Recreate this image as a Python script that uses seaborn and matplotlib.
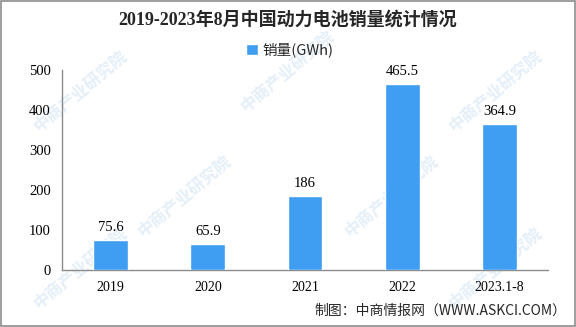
import matplotlib
matplotlib.use("Agg")
import matplotlib.pyplot as plt
import seaborn as sns
import pandas as pd
from matplotlib.patches import Rectangle

# Chart data
years = ["2019", "2020", "2021", "2022", "2023.1-8"]
sales = [75.6, 65.9, 186, 465.5, 364.9]
value_labels = ["75.6", "65.9", "186", "465.5", "364.9"]
series_name = "销量(GWh)"
y_ticks = [0, 100, 200, 300, 400, 500]

title = "2019-2023年8月中国动力电池销量统计情况"
source = "制图：中商情报网（WWW.ASKCI.COM）"
watermark = "中商产业研究院"

sns.set_theme(style="white")
plt.rcParams["font.family"] = ["Liberation Serif", "Noto Sans CJK SC", "DejaVu Sans"]

bar_color = "#3F9DF2"
axis_color = "#8C8C8C"

df = pd.DataFrame({"year": years, "sales": sales, "series": series_name})

fig = plt.figure(figsize=(5.76, 3.27), dpi=100)

# background layer with faint diagonal watermarks
bg = fig.add_axes([0, 0, 1, 1], zorder=-1)
bg.set_axis_off()
for (wx, wy) in [(0.14, 0.72), (0.50, 0.78), (0.86, 0.72),
                 (0.32, 0.40), (0.68, 0.40),
                 (0.14, 0.18), (0.86, 0.18)]:
    bg.text(wx, wy, watermark, rotation=40, fontsize=12, color="#E4EFF9",
            family=["Noto Sans CJK SC"], fontweight="bold",
            ha="center", va="center", transform=bg.transAxes)

ax = fig.add_axes([62 / 576, 1 - 270 / 327, (548 - 62) / 576, 200 / 327])
sns.barplot(data=df, x="year", y="sales", hue="series", palette=[bar_color],
            width=0.36, saturation=1, ax=ax, zorder=3)
ax.patch.set_alpha(0)

for i, (v, lab) in enumerate(zip(sales, value_labels)):
    ax.text(i, v + 14, lab, ha="center", va="bottom", fontsize=10.5,
            color="black", family=["Liberation Serif", "Noto Sans CJK SC"])

ax.set_ylim(0, 500)
ax.set_xlim(-0.5, len(years) - 0.5)
ax.set_yticks(y_ticks)
ax.set_yticklabels([str(t) for t in y_ticks], fontsize=10.5)
ax.set_xlabel("")
ax.set_ylabel("")
ax.tick_params(axis="x", which="major", length=0, pad=8, labelsize=10)
ax.set_xticks([i - 0.5 for i in range(len(years) + 1)], minor=True)
ax.tick_params(axis="x", which="minor", length=5, color=axis_color, width=1, direction="out")
ax.tick_params(axis="y", length=5, color=axis_color, width=1, direction="out", pad=3)
ax.tick_params(axis="both", labelcolor="black")
for side in ["top", "right"]:
    ax.spines[side].set_visible(False)
for side in ["left", "bottom"]:
    ax.spines[side].set_color(axis_color)
    ax.spines[side].set_linewidth(1)

leg = ax.legend(loc="center", bbox_to_anchor=(290 / 576, 1 - 50 / 327),
                bbox_transform=fig.transFigure, frameon=False, fontsize=10.5,
                handlelength=0.8, handleheight=0.8, handletextpad=0.3)
for t in leg.get_texts():
    t.set_family(["Noto Sans CJK SC"])

fig.text(288 / 576, 1 - 20 / 327, title, ha="center", va="center", fontsize=13,
         fontweight="bold", family=["Liberation Serif", "Noto Sans CJK SC"])
fig.text(566 / 576, 1 - 311 / 327, source, ha="right", va="center", fontsize=10,
         family=["Noto Sans CJK SC", "DejaVu Sans"])

fig.patches.append(Rectangle((0.001, 0.002), 0.997, 0.995, transform=fig.transFigure,
                             fill=False, edgecolor="#8C8C8C", linewidth=1.2))

fig.savefig("out.png", dpi=100)
